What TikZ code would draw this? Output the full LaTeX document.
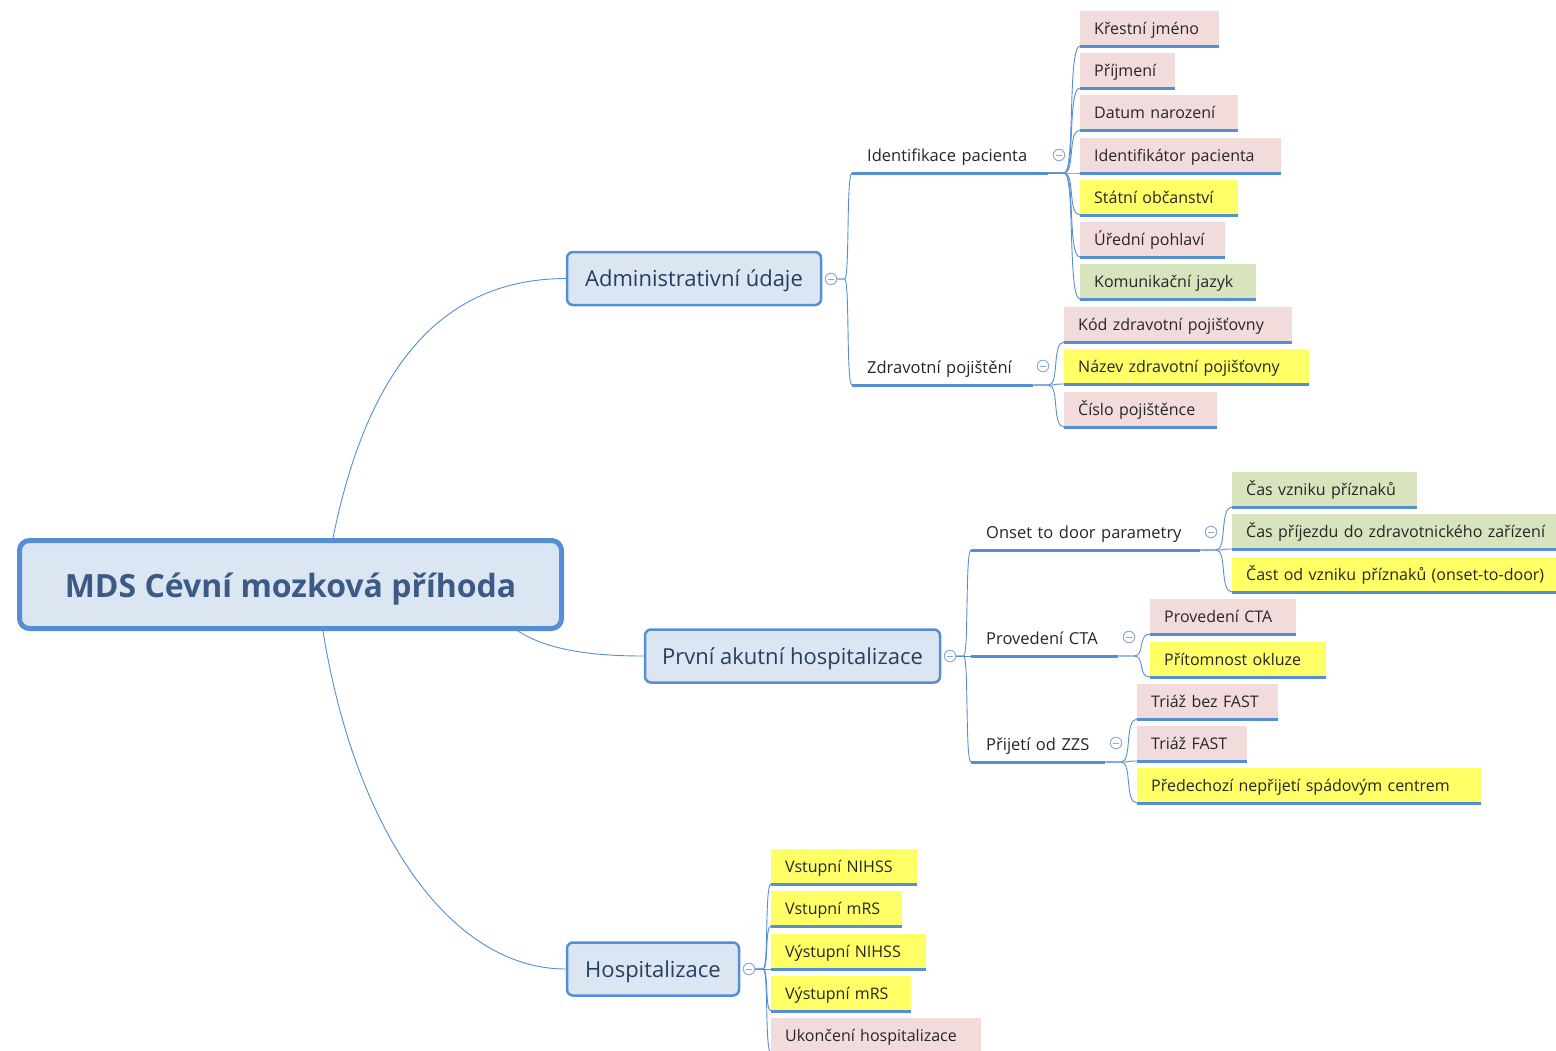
\documentclass[tikz,border=0pt]{standalone}
\usepackage{fontspec}
\setmainfont{Open Sans}
\usetikzlibrary{backgrounds,calc}
\definecolor{ublue}{HTML}{558ED5}
\definecolor{lblue}{HTML}{DCE6F2}
\definecolor{lpink}{HTML}{F2DCDB}
\definecolor{lyel}{HTML}{FFFF66}
\definecolor{lgreen}{HTML}{D7E4BD}
\definecolor{ttxt}{HTML}{243F60}
\definecolor{rtxt}{HTML}{3B5B86}
\definecolor{cblue}{HTML}{8EAADB}
\definecolor{ltxt}{HTML}{262626}
\tikzset{
  uline/.style={draw=ublue, line width=3pt},
  cline/.style={draw=ublue, line width=0.9pt},
  leaf/.style={anchor=south west, minimum height=35pt, inner xsep=14pt, inner ysep=0pt,
    text height=14.5pt, text depth=1.5pt, align=left, font=\fontsize{16}{18}\selectfont, text=ltxt,
    execute at begin node={\hbox\bgroup}, execute at end node={\egroup},
    append after command={(\tikzlastnode.south west) edge[uline] (\tikzlastnode.south east)}},
  pinkleaf/.style={leaf, fill=lpink},
  yelleaf/.style={leaf, fill=lyel},
  greenleaf/.style={leaf, fill=lgreen},
  subtopic/.style={leaf, minimum height=36pt, inner xsep=15pt, font=\fontsize{16.5}{18}\selectfont},
  maintopic/.style={draw=ublue, line width=2.5pt, fill=lblue, rounded corners=6pt,
    font=\fontsize{22}{24}\selectfont, text=ttxt, minimum height=53pt, text height=17pt, text depth=1pt},
  roottopic/.style={draw=ublue, line width=5pt, fill=lblue, rounded corners=10pt,
    font=\fontsize{32}{36}\selectfont\bfseries, text=rtxt, minimum width=542pt, minimum height=88pt,
    text height=25pt, text depth=0pt},
  collapse/.style={circle, draw=cblue, fill=white, line width=1pt, minimum size=11.5pt, inner sep=0pt,
    path picture={\draw[cblue, line width=1pt] ([xshift=-3pt]path picture bounding box.center) -- ([xshift=3pt]path picture bounding box.center);}}
}
\newcommand\childconn[2]{%
  \draw[cline] let \p1=(#1), \p2=(#2) in (\p1) -- ({\x1+0.5*(\x2-\x1)},\y1)
    .. controls ({\x1+0.85*(\x2-\x1)},\y1) and ({\x1+0.6*(\x2-\x1)},\y2) .. (\p2);}
\begin{document}
\begin{tikzpicture}[x=1pt, y=-1pt]
\useasboundingbox (0,0) rectangle (1556,1050);

% root and main topics
\node[roottopic] (root) at (290.5,584.5) {MDS Cévní mozková příhoda};
\node[maintopic, minimum width=254pt] (adm) at (694,278.5) {Administrativní údaje};
\node[maintopic, minimum width=295pt] (pah) at (792.5,656) {První akutní hospitalizace};
\node[maintopic, minimum width=172pt] (hos) at (653,969) {Hospitalizace};

\node[collapse] (cadm) at (831,279) {};
\node[collapse] (cpah) at (950,656) {};
\node[collapse] (chos) at (749,969) {};

% sub topics
\node[subtopic, minimum width=196pt, text width=166pt] (idp) at (852,173) {Identifikace pacienta};
\node[subtopic, minimum width=181pt, text width=151pt] (zdp) at (852,385) {Zdravotní pojištění};
\node[subtopic, minimum width=229pt, text width=199pt] (otd) at (971,550) {Onset to door parametry};
\node[subtopic, minimum width=147pt, text width=117pt] (cta) at (971,656) {Provedení CTA};
\node[subtopic, minimum width=134pt, text width=104pt] (zzs) at (971,762) {Přijetí od ZZS};

\node[collapse] (cidp) at (1059,155) {};
\node[collapse] (czdp) at (1043,366) {};
\node[collapse] (cotd) at (1211,532) {};
\node[collapse] (ccta) at (1129,637) {};
\node[collapse] (czzs) at (1116,743) {};

% leaves: Identifikace pacienta
\node[pinkleaf, text width=111pt] (l1) at (1080,46) {Křestní jméno};
\node[pinkleaf, text width=67pt] (l2) at (1080,88) {Příjmení};
\node[pinkleaf, text width=130pt] (l3) at (1080,130) {Datum narození};
\node[pinkleaf, text width=173pt] (l4) at (1080,173) {Identifikátor pacienta};
\node[yelleaf, text width=130pt] (l5) at (1080,215) {Státní občanství};
\node[pinkleaf, text width=117pt] (l6) at (1080,257) {Úřední pohlaví};
\node[greenleaf, text width=148pt] (l7) at (1080,299) {Komunikační jazyk};
% Zdravotni pojisteni
\node[pinkleaf, text width=200pt] (z1) at (1064,342) {Kód zdravotní pojišťovny};
\node[yelleaf, text width=217pt] (z2) at (1064,384) {Název zdravotní pojišťovny};
\node[pinkleaf, text width=125pt] (z3) at (1064,427) {Číslo pojištěnce};
% Onset to door
\node[greenleaf, text width=157pt] (o1) at (1232,507) {Čas vzniku příznaků};
\node[greenleaf, text width=342pt] (o2) at (1232,549) {Čas příjezdu do zdravotnického zařízení};
\node[yelleaf, text width=342pt] (o3) at (1232,592) {Čast od vzniku příznaků (onset-to-door)};
% CTA
\node[pinkleaf, text width=118pt] (c1) at (1150,634) {Provedení CTA};
\node[yelleaf, text width=148pt] (c2) at (1150,677) {Přítomnost okluze};
% ZZS
\node[pinkleaf, text width=113pt] (s1) at (1137,719) {Triáž bez FAST};
\node[pinkleaf, text width=82pt] (s2) at (1137,761) {Triáž FAST};
\node[yelleaf, text width=316pt] (s3) at (1137,803) {Předechozí nepřijetí spádovým centrem};
% Hospitalizace
\node[yelleaf, text width=118pt] (h1) at (771,884) {Vstupní NIHSS};
\node[yelleaf, text width=103pt] (h2) at (771,926) {Vstupní mRS};
\node[yelleaf, text width=127pt] (h3) at (771,969) {Výstupní NIHSS};
\node[yelleaf, text width=112pt] (h4) at (771,1011) {Výstupní mRS};
\node[pinkleaf, text width=182pt] (h5) at (771,1053) {Ukončení hospitalizace};

\begin{pgfonlayer}{background}
  % root connectors
  \draw[cline] ([xshift=42.5pt]root.north) .. controls (375,330) and (470,279) .. (adm.west);
  \draw[cline] ([xshift=227.5pt]root.south) .. controls (550,652) and (600,656) .. (pah.west);
  \draw[cline] ([xshift=32.5pt]root.south) .. controls (355,830) and (450,969) .. (hos.west);
  % main topic to sub topics
  \childconn{cadm.east}{idp.south west}
  \childconn{cadm.east}{zdp.south west}
  \childconn{cpah.east}{otd.south west}
  \childconn{cpah.east}{cta.south west}
  \childconn{cpah.east}{zzs.south west}
  % leaves
  \foreach \q in {h1,h2,h3,h4,h5} {\childconn{chos.east}{\q.south west}}
  \foreach \q in {l1,l2,l3,l4,l5,l6,l7} {\childconn{idp.south east}{\q.south west}}
  \foreach \q in {z1,z2,z3} {\childconn{zdp.south east}{\q.south west}}
  \foreach \q in {o1,o2,o3} {\childconn{otd.south east}{\q.south west}}
  \foreach \q in {c1,c2} {\childconn{cta.south east}{\q.south west}}
  \foreach \q in {s1,s2,s3} {\childconn{zzs.south east}{\q.south west}}
\end{pgfonlayer}
\end{tikzpicture}
\end{document}
